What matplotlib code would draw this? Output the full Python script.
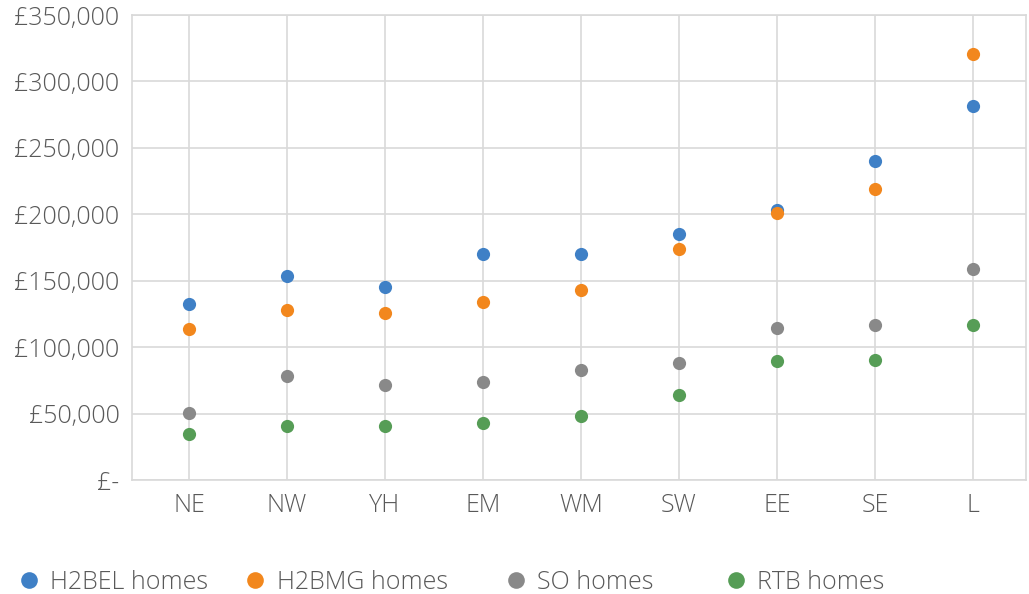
import matplotlib.pyplot as plt
from matplotlib.lines import Line2D
from matplotlib.ticker import FuncFormatter

regions = ["NE", "NW", "YH", "EM", "WM", "SW", "EE", "SE", "L"]
h2bel = [132700, 153300, 145300, 170300, 170300, 185200, 203000, 239900, 281500]
h2bmg = [113400, 128200, 125900, 134000, 143000, 173600, 201200, 219000, 320600]
so = [50700, 78300, 71500, 73500, 82800, 88300, 114600, 116900, 159000]
rtb = [34400, 40600, 40600, 43100, 48400, 64200, 89600, 90600, 116900]

series = [
    ("H2BEL homes", h2bel, "#3f80c6"),
    ("H2BMG homes", h2bmg, "#f2871d"),
    ("SO homes", so, "#898989"),
    ("RTB homes", rtb, "#569d56"),
]
# legend entry left edges (figure fraction)
legend_x = [0.016, 0.236, 0.489, 0.703]

plt.rcParams["font.family"] = ["Open Sans", "DejaVu Sans"]
text_col = "#595959"
grid_col = "#d9d9d9"

fig = plt.figure(figsize=(10.29, 5.94), dpi=100)
ax = fig.add_axes([0.1283, 0.1919, 0.8687, 0.7828])

x = list(range(len(regions)))
for name, vals, col in series:
    ax.plot(x, vals, linestyle="none", marker="o", markersize=9.5,
            color=col, markeredgewidth=0, label=name, zorder=3)

ax.set_xlim(-0.582, 8.541)
ax.set_ylim(0, 350000)
ax.set_yticks(range(0, 350001, 50000))
ax.set_xticks(x)
ax.set_xticklabels(regions)


def money(v, pos):
    if v == 0:
        return "£-"
    return f"£{v:,.0f}"


ax.yaxis.set_major_formatter(FuncFormatter(money))
ax.grid(True, color=grid_col, linewidth=1.2, zorder=0)
ax.set_axisbelow(True)
for s in ax.spines.values():
    s.set_color(grid_col)
    s.set_linewidth(1.2)
ax.tick_params(length=0, labelsize=18, labelcolor=text_col, pad=9)
for lbl in ax.get_xticklabels() + ax.get_yticklabels():
    lbl.set_fontweight("light")

# one legend per entry so the spacing follows the original
for (name, vals, col), lx in zip(series, legend_x):
    h = Line2D([], [], linestyle="none", marker="o", markersize=12,
               color=col, markeredgewidth=0)
    leg = fig.legend([h], [name], loc="center left", bbox_to_anchor=(lx, 0.019),
                     frameon=False, fontsize=18, handletextpad=0.35,
                     handlelength=1.0, borderpad=0, borderaxespad=0)
    for t in leg.get_texts():
        t.set_color(text_col)
        t.set_fontweight("light")

fig.savefig("out.png", dpi=100)
